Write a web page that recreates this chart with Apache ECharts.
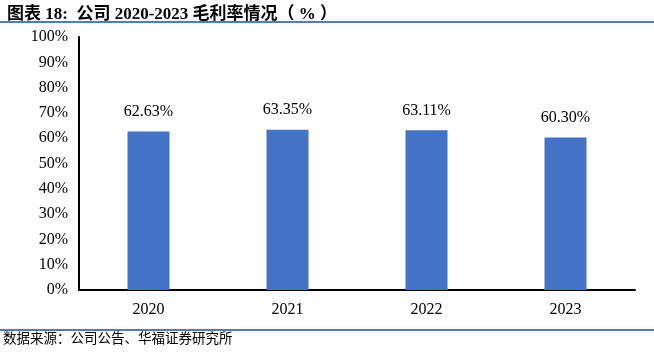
<!DOCTYPE html>
<html><head><meta charset="utf-8">
<script src="https://cdn.jsdelivr.net/npm/echarts@6/dist/echarts.min.js"></script>
<style>html,body{margin:0;padding:0;background:#fff}#c{width:654px;height:353px}</style>
</head><body><div id="c"></div>
<script>
const categories = ['2020', '2021', '2022', '2023'];
const grossMargin = [62.63, 63.35, 63.11, 60.30];
const yTicks = [0, 10, 20, 30, 40, 50, 60, 70, 80, 90, 100];

const chart = echarts.init(document.getElementById('c'));
const serif = '"Liberation Serif", "Times New Roman", "Noto Sans CJK SC", serif';
chart.setOption({
  animation: false,
  title: {
    text: '图表 18:  公司 2020-2023 毛利率情况（ % ）',
    left: 2, top: 1,
    textStyle: { fontFamily: serif, fontSize: 17, fontWeight: 'bold', color: '#000' }
  },
  graphic: [
    { type: 'line', shape: { x1: 0, y1: 22, x2: 654, y2: 22 }, style: { stroke: '#1F4E9A', lineWidth: 1.5 } },
    { type: 'line', shape: { x1: 0, y1: 330, x2: 654, y2: 330 }, style: { stroke: '#1F4E9A', lineWidth: 1.5 } },
    { type: 'text', left: 3, top: 333, style: { text: '数据来源：公司公告、华福证券研究所', font: '13.5px ' + serif, fill: '#000' } }
  ],
  grid: { left: 79, right: 19, top: 37, bottom: 63 },
  xAxis: {
    type: 'category', data: categories,
    axisLine: { lineStyle: { color: '#000', width: 2 } },
    axisTick: { show: false },
    axisLabel: { fontFamily: serif, fontSize: 16, color: '#000', margin: 12 }
  },
  yAxis: {
    type: 'value', min: yTicks[0], max: yTicks[yTicks.length - 1], interval: 10,
    axisLine: { show: true, lineStyle: { color: '#000', width: 2 } },
    axisTick: { show: false },
    splitLine: { show: false },
    axisLabel: { fontFamily: serif, fontSize: 16, color: '#000', margin: 11, formatter: v => v + '%' }
  },
  series: [{
    type: 'bar', data: grossMargin, barWidth: 42,
    itemStyle: { color: '#4472C4' },
    label: { show: true, position: 'top', distance: 12, fontFamily: serif, fontSize: 16, color: '#000',
      formatter: p => p.value.toFixed(2) + '%' }
  }]
});
</script></body></html>
